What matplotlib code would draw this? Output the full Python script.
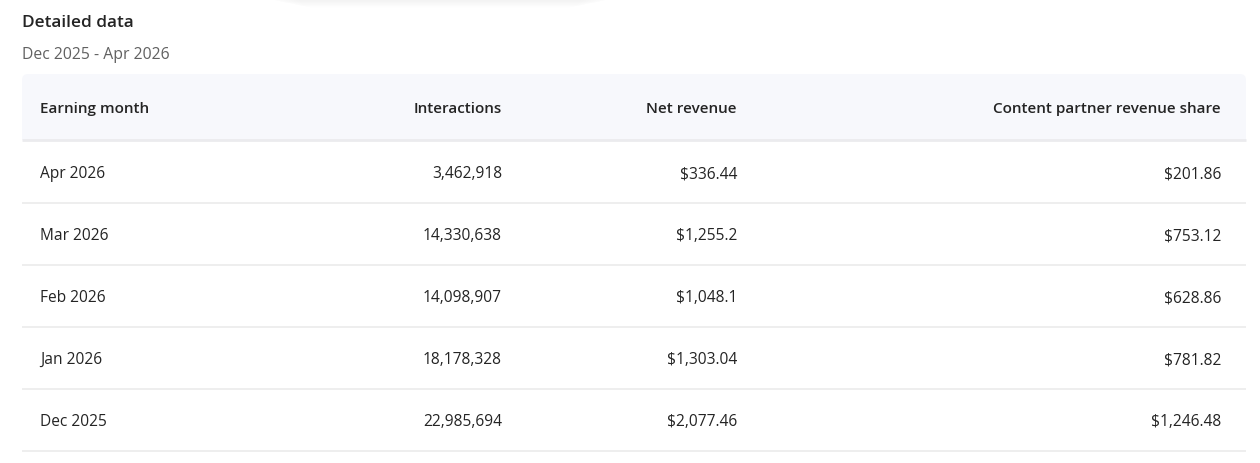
import matplotlib
matplotlib.use("Agg")
import matplotlib.pyplot as plt
from matplotlib.patches import FancyBboxPatch, Rectangle
import numpy as np

title = "Detailed data"
subtitle = "Dec 2025 - Apr 2026"
columns = ["Earning month", "Interactions", "Net revenue", "Content partner revenue share"]
months = ["Apr 2026", "Mar 2026", "Feb 2026", "Jan 2026", "Dec 2025"]
interactions = [3462918, 14330638, 14098907, 18178328, 22985694]
net_revenue = ["$336.44", "$1,255.2", "$1,048.1", "$1,303.04", "$2,077.46"]
partner_share = ["$201.86", "$753.12", "$628.86", "$781.82", "$1,246.48"]

W, H = 1260, 463
FONT = ["Open Sans", "DejaVu Sans"]
px = 0.72  # pt per pixel at dpi 100

fig = plt.figure(figsize=(W / 100, H / 100), dpi=100)
ax = fig.add_axes([0, 0, 1, 1])
ax.set_xlim(0, W)
ax.set_ylim(H, 0)
ax.axis("off")

# very faint soft shadow of a popup at the top edge
for i in range(12):
    ax.add_patch(FancyBboxPatch((265 + i * 3, -20), 350 - i * 6, 21 + i * 0.6,
                                boxstyle="round,pad=0,rounding_size=14",
                                fc="#000000", ec="none", alpha=0.0045))

ax.text(22, 27, title, fontsize=17.3 * px, fontweight="semibold", color="#242424",
        family=FONT, va="baseline", ha="left")
ax.text(22, 59, subtitle, fontsize=15.8 * px, color="#616161",
        family=FONT, va="baseline", ha="left")

# header band
left, right = 22, 1246
ax.add_patch(FancyBboxPatch((left, 74), right - left, 66,
                            boxstyle="round,pad=0,rounding_size=6",
                            fc="#f7f8fc", ec="none"))
ax.add_patch(Rectangle((left, 120), right - left, 20, fc="#f7f8fc", ec="none"))
ax.plot([left, right], [140, 140], color="#ebebee", lw=2, solid_capstyle="butt")

col_x = [40, 502, 737, 1221]
col_ha = ["left", "right", "right", "right"]
for c, x, ha in zip(columns, col_x, col_ha):
    ax.text(x, 113, c, fontsize=15.2 * px, fontweight="semibold", color="#242424",
            family=FONT, va="baseline", ha=ha)

row_h = 62
for i, (m, it, nr, ps) in enumerate(zip(months, interactions, net_revenue, partner_share)):
    yb = 178 + i * row_h
    vals = [m, f"{it:,}", nr, ps]
    for v, x, ha in zip(vals, col_x, col_ha):
        ax.text(x, yb, v, fontsize=15.5 * px, color="#242424",
                family=FONT, va="baseline", ha=ha)
    yl = 202.5 + i * row_h
    ax.plot([left, right], [yl, yl], color="#ebebeb", lw=1.2, solid_capstyle="butt")

fig.savefig("out.png", dpi=100, facecolor="white")
